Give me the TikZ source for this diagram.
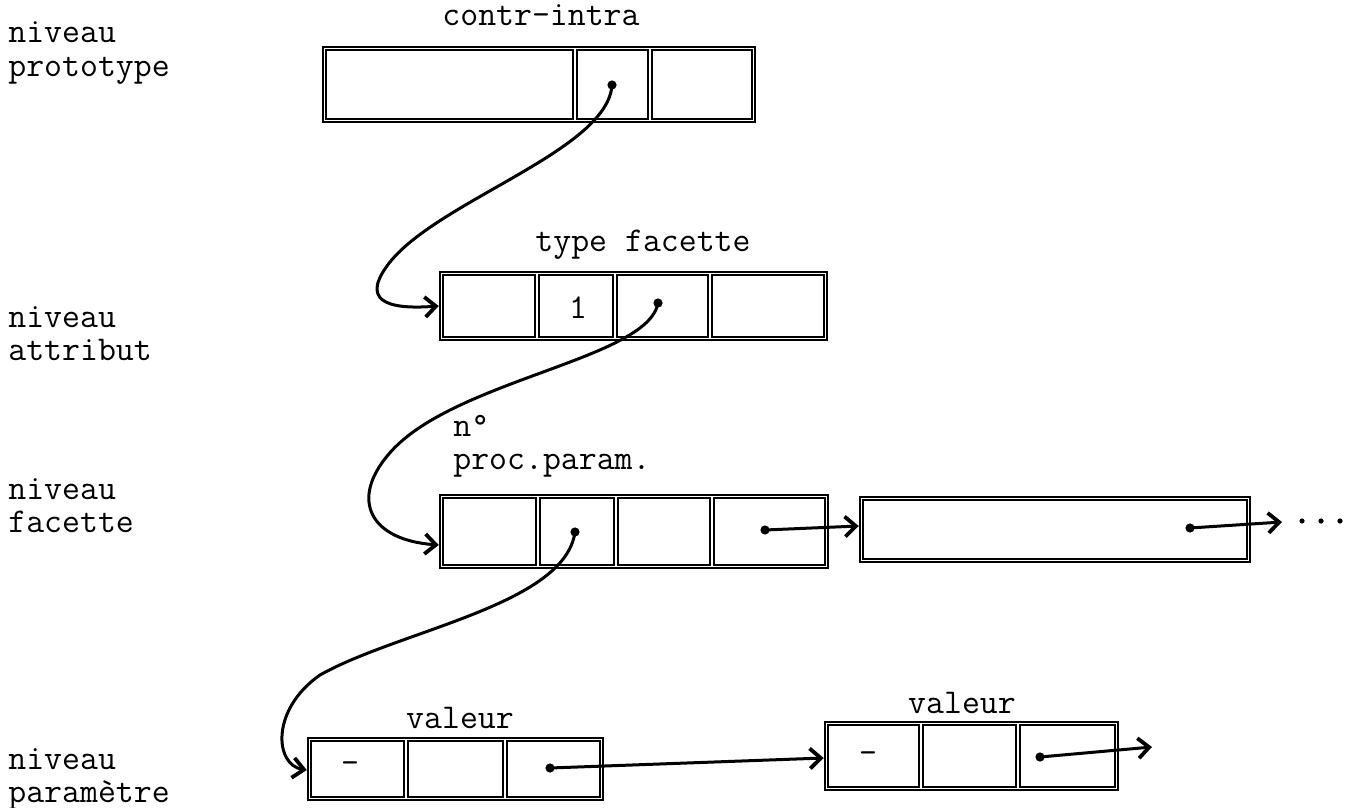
\documentclass[tikz,border=0pt]{standalone}
\usepackage{fontspec}
\usetikzlibrary{arrows.meta,fit}
\begin{document}
\begin{tikzpicture}[x=0.5pt,y=-0.5pt,
  outerbox/.style={draw, line width=1.25pt, inner sep=0pt},
  cellr/.style={draw, line width=0.75pt},
  dot/.style={circle, fill, inner sep=0pt, minimum size=4.6pt},
  sdot/.style={circle, fill, inner sep=0pt, minimum size=2.6pt},
  conn/.style={line width=1.5pt, -{Straight Barb[length=5.5pt,width=10pt,line width=1.9pt]}},
  txt/.style={font=\ttfamily\fontsize{17.4}{16.6}\selectfont, inner sep=0pt},
  lbl/.style={txt, align=left, anchor=west}]
\useasboundingbox (0,0) rectangle (1345,808);

% level labels
\node[lbl] (l1) at (8,53) {niveau\\prototype};
\node[lbl] (l2) at (8,334) {niveau\\attribut};
\node[lbl] (l3) at (8,506) {niveau\\facette};
\node[lbl] (l4) at (8,779) {niveau\\paramètre};

% titles
\node[txt] (t1) at (541,15) {contr-intra};
\node[txt] (t2) at (643,245) {type facette};
\node[txt, align=left, anchor=west] (t3) at (453,446) {n°\\proc.param.};
\node[txt] (t4) at (460,718) {valeur};
\node[txt] (t5) at (962,703) {valeur};

% box 1 (prototype)
\node[outerbox, fit={(323,47) (755,122)}] (b1) {};
\foreach \a/\b in {326/573, 577/648, 652/752} \draw[cellr] (\a,50) rectangle (\b,119);
\node[dot] (d1) at (612,85) {};

% box 2 (attribut)
\node[outerbox, fit={(440,272) (827,340)}] (b2) {};
\foreach \a/\b in {443/535, 539/613, 617/708, 712/824} \draw[cellr] (\a,275) rectangle (\b,337);
\node[txt] (one) at (578,308) {1};
\node[dot] (d2) at (658,303) {};

% box 3 (facette)
\node[outerbox, fit={(440,495) (828,568)}] (b3) {};
\foreach \a/\b in {443/536, 540/614, 618/710, 714/825} \draw[cellr] (\a,498) rectangle (\b,565);
\node[dot] (d3) at (575,532) {};
\node[dot] (d4) at (765,530) {};

% box 4
\node[outerbox, fit={(860,497) (1250,562)}] (b4) {};
\draw[cellr] (863,500) rectangle (1247,559);
\node[dot] (d5) at (1190,528) {};
\coordinate (e5) at (1282,522);
\node[sdot] (p1) at (1302,521) {};
\node[sdot] (p2) at (1321,521) {};
\node[sdot] (p3) at (1340,521) {};

% box 5 (parametre)
\node[outerbox, fit={(308,738) (603,800)}] (b5) {};
\foreach \a/\b in {311/404, 408/503, 507/600} \draw[cellr] (\a,741) rectangle (\b,797);
\node[txt] (m1) at (350,768) {-};
\node[dot] (d6) at (550,768) {};

% box 6
\node[outerbox, fit={(825,722) (1118,790)}] (b6) {};
\foreach \a/\b in {828/919, 923/1016, 1020/1115} \draw[cellr] (\a,725) rectangle (\b,787);
\node[txt] (m2) at (868,758) {-};
\node[dot] (d7) at (1040,757) {};
\coordinate (e7) at (1152,747);

% connectors
\draw[conn] (d1.center) .. controls (608,150) and (440,200) .. (390,262)
  .. controls (360,300) and (385,310) .. (b2.west);
\draw[conn] (d2.center) .. controls (648,360) and (450,380) .. (388,455)
  .. controls (350,500) and (370,540) .. (b3.west |- 0,545);
\draw[conn] (d3.center) .. controls (565,605) and (400,630) .. (320,675)
  .. controls (270,710) and (275,765) .. (b5.west |- 0,770);
\draw[conn] (d4.center) -- (b4.west |- 0,526);
\draw[conn] (d5.center) -- (e5);
\draw[conn] (d6.center) -- (b6.west |- 0,758);
\draw[conn] (d7.center) -- (e7);
\end{tikzpicture}
\end{document}
